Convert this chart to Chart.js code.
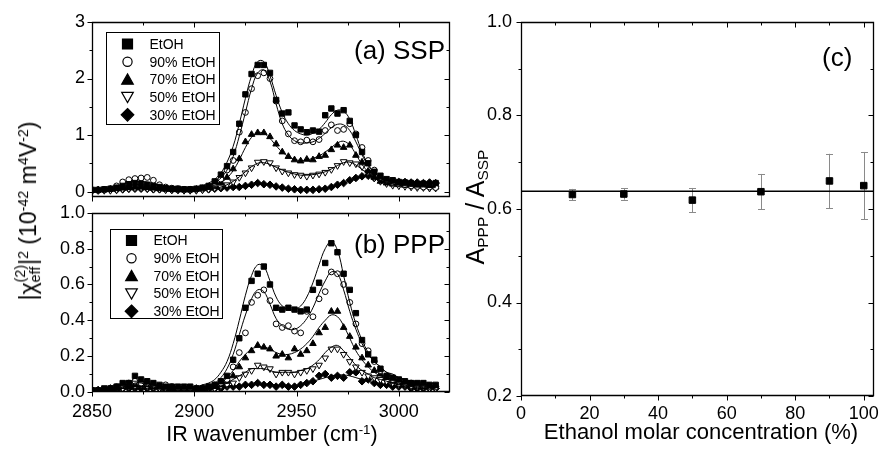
<!DOCTYPE html>
<html>
<head>
<meta charset="utf-8">
<title>SFG spectra of ethanol solutions</title>
<script src="https://cdn.jsdelivr.net/npm/chart.js@4.4.1/dist/chart.umd.min.js"></script>
<style>
  html, body { margin:0; padding:0; background:#fff; }
  body { width:886px; height:449px; position:relative; overflow:hidden;
         font-family:"Liberation Sans", Arial, sans-serif; color:#000; }
  canvas { position:absolute; }
  .lbl { position:absolute; white-space:nowrap; line-height:1; }
  .rot { transform: translate(-50%,-50%) rotate(-90deg); }
  .ctr { transform: translateX(-50%); }
  sup { font-size:0.62em; vertical-align:0.55em; line-height:0; }
  sub { font-size:0.62em; vertical-align:-0.28em; line-height:0; }
  .stk { display:inline-block; vertical-align:-0.3em; font-size:0.62em; line-height:1.05; }
  .stk span { display:block; }
</style>
</head>
<body>
<canvas id="cA" width="460" height="215" style="left:0px;top:0px"></canvas>
<canvas id="cB" width="460" height="254" style="left:0px;top:195px"></canvas>
<canvas id="cC" width="426" height="449" style="left:460px;top:0px"></canvas>

<div class="lbl" style="left:354px;top:37px;font-size:26px">(a) SSP</div>
<div class="lbl" style="left:354px;top:231px;font-size:26px">(b) PPP</div>
<div class="lbl" style="left:822px;top:44px;font-size:26px">(c)</div>
<div class="lbl ctr" style="left:272px;top:424px;font-size:21.5px">IR wavenumber (cm<sup>-1</sup>)</div>
<div class="lbl ctr" style="left:701px;top:421px;font-size:22px">Ethanol molar concentration (%)</div>
<div class="lbl rot" style="left:28px;top:211px;font-size:23px">|&chi;<span class="stk"><span>(2)</span><span>eff</span></span>|<sup>2</sup> (10<sup>-42</sup> m<sup>4</sup>V<sup>-2</sup>)</div>
<div class="lbl rot" style="left:475px;top:207px;font-size:25px">A<sub>PPP</sub> / A<sub>SSP</sub></div>

<script>
// ---------------- data ----------------
const wavenumbers = [2850,2853,2856,2859,2862,2865,2868,2871,2874,2877,
  2880,2883,2886,2889,2892,2895,2898,2901,2904,2907,
  2910,2913,2916,2919,2922,2925,2928,2931,2934,2937,
  2940,2943,2946,2949,2952,2955,2958,2961,2964,2967,
  2970,2973,2976,2979,2982,2985,2988,2991,2994,2997,
  3000,3003,3006,3009,3012,3015,3018];

const seriesLabels = ['EtOH','90% EtOH','70% EtOH','50% EtOH','30% EtOH'];

// (a) SSP measured
const sspEtOH = [0.03,0.03,0.04,0.05,0.07,0.10,0.13,0.15,0.14,0.12,
  0.10,0.08,0.06,0.05,0.05,0.04,0.04,0.05,0.07,0.10,
  0.18,0.30,0.45,0.70,1.20,1.72,2.08,2.24,2.24,2.10,
  1.62,1.38,1.40,1.17,1.10,1.05,1.08,1.06,1.35,1.47,
  1.38,1.44,1.25,1.00,0.70,0.50,0.35,0.28,0.22,0.20,
  0.17,0.16,0.15,0.13,0.14,0.12,0.15];
const ssp90 = [0.02,0.02,0.03,0.05,0.10,0.17,0.21,0.23,0.24,0.25,
  0.20,0.12,0.08,0.06,0.05,0.04,0.04,0.04,0.06,0.09,
  0.14,0.22,0.38,0.55,1.05,1.40,1.82,2.05,2.10,2.00,
  1.60,1.25,1.02,0.90,0.88,0.91,0.88,0.92,1.08,1.18,
  1.08,1.10,1.20,1.02,0.78,0.55,0.38,0.25,0.20,0.16,
  0.14,0.12,0.10,0.09,0.08,0.08,0.07];
const ssp70 = [0.02,0.03,0.03,0.04,0.05,0.06,0.07,0.08,0.08,0.07,
  0.06,0.05,0.04,0.04,0.03,0.03,0.03,0.04,0.05,0.07,
  0.10,0.16,0.25,0.40,0.58,0.88,1.01,1.04,1.04,0.97,
  0.84,0.70,0.62,0.56,0.54,0.57,0.56,0.62,0.64,0.74,
  0.82,0.78,0.82,0.64,0.52,0.36,0.25,0.18,0.15,0.13,
  0.12,0.11,0.10,0.10,0.09,0.09,0.08];
const ssp50 = [0.01,0.02,0.02,0.02,0.03,0.04,0.05,0.06,0.06,0.05,
  0.04,0.04,0.03,0.03,0.03,0.02,0.02,0.02,0.03,0.04,
  0.06,0.08,0.12,0.17,0.25,0.33,0.42,0.52,0.53,0.51,
  0.42,0.36,0.33,0.30,0.29,0.27,0.29,0.31,0.34,0.39,
  0.46,0.53,0.51,0.49,0.44,0.34,0.24,0.18,0.14,0.11,
  0.10,0.09,0.08,0.07,0.07,0.06,0.06];
const ssp30 = [0.02,0.02,0.03,0.03,0.03,0.04,0.05,0.05,0.05,0.05,
  0.04,0.04,0.04,0.03,0.03,0.03,0.03,0.03,0.04,0.04,
  0.05,0.06,0.07,0.08,0.08,0.10,0.12,0.15,0.13,0.12,
  0.09,0.07,0.05,0.04,0.03,0.03,0.03,0.04,0.05,0.08,
  0.12,0.15,0.20,0.24,0.27,0.28,0.24,0.21,0.19,0.18,
  0.17,0.17,0.16,0.16,0.15,0.16,0.15];

// (a) SSP fitted curves
const sspFitEtOH = [0.03,0.03,0.04,0.05,0.07,0.09,0.11,0.12,0.12,0.11,
  0.09,0.07,0.06,0.05,0.05,0.05,0.06,0.07,0.10,0.15,
  0.22,0.33,0.52,0.80,1.20,1.65,2.05,2.30,2.30,2.05,
  1.70,1.40,1.20,1.08,1.02,1.00,1.03,1.10,1.22,1.36,
  1.44,1.42,1.28,1.00,0.70,0.48,0.34,0.26,0.21,0.18,
  0.16,0.15,0.14,0.13,0.12,0.12,0.11];
const sspFit90 = [0.02,0.03,0.04,0.06,0.09,0.13,0.16,0.18,0.18,0.17,
  0.14,0.11,0.08,0.06,0.05,0.05,0.05,0.06,0.07,0.10,
  0.15,0.24,0.38,0.62,0.98,1.40,1.82,2.10,2.15,1.95,
  1.55,1.20,1.00,0.90,0.86,0.86,0.88,0.94,1.03,1.13,
  1.19,1.18,1.08,0.88,0.65,0.46,0.33,0.25,0.20,0.17,
  0.15,0.13,0.12,0.11,0.10,0.09,0.09];
const sspFit70 = [0.03,0.03,0.04,0.04,0.05,0.06,0.07,0.07,0.07,0.07,
  0.06,0.05,0.04,0.04,0.04,0.04,0.04,0.05,0.06,0.08,
  0.11,0.16,0.24,0.37,0.56,0.78,0.96,1.04,1.03,0.94,
  0.81,0.70,0.62,0.57,0.55,0.56,0.59,0.63,0.70,0.78,
  0.86,0.89,0.82,0.66,0.48,0.35,0.26,0.20,0.16,0.14,
  0.13,0.12,0.11,0.10,0.10,0.09,0.09];
const sspFit50 = [0.02,0.02,0.02,0.03,0.03,0.04,0.05,0.05,0.05,0.05,
  0.04,0.04,0.03,0.03,0.03,0.03,0.03,0.03,0.04,0.05,
  0.06,0.08,0.12,0.18,0.26,0.35,0.44,0.50,0.51,0.48,
  0.43,0.38,0.34,0.31,0.29,0.29,0.30,0.32,0.35,0.40,
  0.46,0.51,0.52,0.47,0.39,0.31,0.24,0.19,0.15,0.13,
  0.11,0.10,0.09,0.08,0.08,0.07,0.07];
const sspFit30 = [0.02,0.02,0.03,0.03,0.03,0.04,0.04,0.05,0.05,0.04,
  0.04,0.04,0.03,0.03,0.03,0.03,0.03,0.03,0.04,0.04,
  0.05,0.06,0.07,0.08,0.09,0.11,0.12,0.13,0.13,0.11,
  0.09,0.07,0.05,0.04,0.03,0.03,0.04,0.05,0.06,0.08,
  0.11,0.15,0.19,0.23,0.26,0.27,0.25,0.22,0.20,0.18,
  0.17,0.16,0.16,0.15,0.15,0.15,0.15];

// (b) PPP measured
const pppEtOH = [0.01,0.01,0.02,0.02,0.03,0.05,0.05,0.09,0.07,0.06,
  0.05,0.04,0.03,0.03,0.03,0.03,0.03,0.02,0.02,0.03,
  0.04,0.06,0.09,0.18,0.30,0.47,0.62,0.66,0.70,0.60,
  0.47,0.46,0.47,0.46,0.45,0.46,0.57,0.61,0.72,0.83,
  0.78,0.66,0.57,0.44,0.29,0.21,0.18,0.13,0.09,0.08,
  0.07,0.06,0.05,0.05,0.05,0.04,0.04];
const ppp90 = [0.01,0.01,0.01,0.02,0.03,0.04,0.05,0.06,0.05,0.05,
  0.04,0.03,0.04,0.03,0.02,0.02,0.02,0.02,0.02,0.03,
  0.04,0.05,0.07,0.14,0.22,0.33,0.50,0.54,0.57,0.51,
  0.38,0.36,0.37,0.34,0.33,0.45,0.42,0.52,0.56,0.67,
  0.66,0.60,0.50,0.38,0.27,0.23,0.17,0.12,0.09,0.07,
  0.06,0.05,0.05,0.04,0.04,0.03,0.03];
const ppp70 = [0.01,0.01,0.01,0.02,0.02,0.03,0.03,0.04,0.04,0.04,
  0.03,0.03,0.03,0.02,0.02,0.02,0.02,0.02,0.02,0.02,
  0.03,0.04,0.06,0.09,0.14,0.19,0.23,0.26,0.25,0.24,
  0.20,0.21,0.19,0.24,0.21,0.23,0.27,0.33,0.36,0.45,
  0.45,0.36,0.31,0.25,0.19,0.15,0.12,0.10,0.08,0.06,
  0.05,0.05,0.04,0.04,0.03,0.03,0.03];
const ppp50 = [0.00,0.00,0.01,0.01,0.01,0.02,0.03,0.03,0.04,0.03,
  0.03,0.02,0.02,0.02,0.02,0.01,0.01,0.01,0.01,0.02,
  0.02,0.03,0.04,0.05,0.08,0.10,0.12,0.15,0.14,0.13,
  0.10,0.11,0.11,0.10,0.11,0.12,0.13,0.15,0.19,0.24,
  0.24,0.21,0.17,0.14,0.11,0.09,0.08,0.07,0.06,0.05,
  0.04,0.04,0.03,0.03,0.03,0.02,0.02];
const ppp30 = [0.01,0.01,0.01,0.01,0.01,0.02,0.02,0.02,0.02,0.02,
  0.02,0.02,0.01,0.01,0.01,0.01,0.01,0.01,0.01,0.02,
  0.02,0.02,0.03,0.03,0.03,0.04,0.04,0.05,0.04,0.04,
  0.03,0.04,0.03,0.03,0.04,0.05,0.06,0.09,0.10,0.08,
  0.09,0.08,0.11,0.11,0.06,0.07,0.05,0.04,0.04,0.03,
  0.03,0.03,0.02,0.02,0.02,0.02,0.02];

// (b) PPP fitted curves
const pppFitEtOH = [0.02,0.02,0.02,0.03,0.04,0.05,0.06,0.06,0.06,0.05,
  0.04,0.03,0.03,0.03,0.03,0.03,0.03,0.03,0.04,0.05,
  0.07,0.11,0.17,0.27,0.40,0.54,0.65,0.71,0.70,0.62,
  0.53,0.48,0.46,0.46,0.48,0.53,0.61,0.71,0.80,0.84,
  0.79,0.65,0.50,0.38,0.29,0.22,0.17,0.14,0.11,0.10,
  0.08,0.07,0.06,0.06,0.05,0.05,0.04];
const pppFit90 = [0.01,0.01,0.02,0.02,0.03,0.04,0.04,0.05,0.05,0.04,
  0.04,0.03,0.03,0.02,0.02,0.02,0.02,0.03,0.03,0.04,
  0.05,0.08,0.13,0.21,0.32,0.43,0.52,0.57,0.56,0.49,
  0.41,0.37,0.35,0.35,0.37,0.41,0.47,0.55,0.62,0.67,
  0.66,0.57,0.45,0.35,0.27,0.21,0.17,0.14,0.11,0.09,
  0.08,0.07,0.06,0.05,0.05,0.05,0.04];
const pppFit70 = [0.01,0.01,0.01,0.02,0.02,0.03,0.03,0.03,0.03,0.03,
  0.03,0.02,0.02,0.02,0.02,0.02,0.02,0.02,0.03,0.03,
  0.04,0.05,0.08,0.12,0.17,0.21,0.24,0.25,0.25,0.24,
  0.22,0.21,0.21,0.22,0.24,0.27,0.31,0.36,0.40,0.43,
  0.42,0.37,0.30,0.23,0.18,0.14,0.11,0.09,0.08,0.07,
  0.06,0.05,0.05,0.04,0.04,0.04,0.03];
const pppFit50 = [0.00,0.01,0.01,0.01,0.01,0.02,0.02,0.03,0.03,0.03,
  0.02,0.02,0.02,0.01,0.01,0.01,0.01,0.01,0.02,0.02,
  0.02,0.03,0.05,0.07,0.09,0.11,0.13,0.13,0.13,0.12,
  0.11,0.11,0.11,0.11,0.12,0.13,0.15,0.18,0.22,0.25,
  0.26,0.23,0.19,0.15,0.12,0.10,0.08,0.07,0.06,0.05,
  0.05,0.04,0.04,0.03,0.03,0.03,0.03];
const pppFit30 = [0.01,0.01,0.01,0.01,0.01,0.02,0.02,0.02,0.02,0.02,
  0.02,0.02,0.01,0.01,0.01,0.01,0.01,0.01,0.02,0.02,
  0.02,0.02,0.03,0.03,0.03,0.04,0.04,0.04,0.04,0.04,
  0.04,0.03,0.03,0.03,0.04,0.05,0.06,0.07,0.08,0.09,
  0.095,0.095,0.09,0.08,0.07,0.06,0.05,0.04,0.04,0.03,
  0.03,0.03,0.02,0.02,0.02,0.02,0.02];

// (c) amplitude ratio
const concentration = [15, 30, 50, 70, 90, 100];
const ratio = [0.631, 0.632, 0.619, 0.637, 0.660, 0.650];
const ratioErr = [0.012, 0.012, 0.026, 0.038, 0.058, 0.072];
const ratioMean = 0.638;

// ticks
const wnTicks = [2850, 2900, 2950, 3000];
const wnMinorTicks = [2875, 2925, 2975];
const sspTicks = [0, 1, 2, 3];
const sspMinorTicks = [0.5, 1.5, 2.5];
const pppTicks = [0, 0.2, 0.4, 0.6, 0.8, 1.0];
const pppMinorTicks = [0.1, 0.3, 0.5, 0.7, 0.9];
const concTicks = [0, 20, 40, 60, 80, 100];
const concMinorTicks = [10, 30, 50, 70, 90];
const ratioTicks = [0.2, 0.4, 0.6, 0.8, 1.0];
const ratioMinorTicks = [0.3, 0.5, 0.7, 0.9];

// ---------------- drawing ----------------
const FONT = '"Liberation Sans", Arial, sans-serif';
Chart.defaults.font.family = FONT;
Chart.defaults.color = '#000';

const markerStyles = [
  { pointStyle: 'rect',     rotation: 0,   radius: 3.8, fill: '#000' },
  { pointStyle: 'circle',   rotation: 0,   radius: 2.9, fill: '#fff' },
  { pointStyle: 'triangle', rotation: 0,   radius: 3.8, fill: '#000' },
  { pointStyle: 'triangle', rotation: 180, radius: 3.8, fill: '#fff' },
  { pointStyle: 'rectRot',  rotation: 0,   radius: 3.8, fill: '#000' }
];

function xy(xs, ys) { return xs.map((x, i) => ({ x: x, y: ys[i] })); }

function drawSymbol(ctx, style, rot, x, y, fill) {
  ctx.beginPath();
  if (style === 'rect') {
    ctx.rect(x - 5, y - 5, 10, 10);
  } else if (style === 'circle') {
    ctx.arc(x, y, 4.6, 0, Math.PI * 2);
  } else if (style === 'triangle' && rot === 180) {
    ctx.moveTo(x, y + 5.5); ctx.lineTo(x + 5.8, y - 4.8); ctx.lineTo(x - 5.8, y - 4.8); ctx.closePath();
  } else if (style === 'triangle') {
    ctx.moveTo(x, y - 5.5); ctx.lineTo(x + 5.8, y + 4.8); ctx.lineTo(x - 5.8, y + 4.8); ctx.closePath();
  } else {
    ctx.moveTo(x, y - 6.3); ctx.lineTo(x + 6.3, y); ctx.lineTo(x, y + 6.3); ctx.lineTo(x - 6.3, y); ctx.closePath();
  }
  ctx.fillStyle = fill; ctx.fill();
  ctx.strokeStyle = '#000'; ctx.lineWidth = 1.2; ctx.stroke();
}

const panelPlugin = {
  id: 'panel',
  beforeDatasetsDraw(chart, args, o) {
    if (!o.errors) return;
    const ctx = chart.ctx, sx = chart.scales.x, sy = chart.scales.y;
    ctx.save();
    ctx.strokeStyle = '#8a8a8a'; ctx.lineWidth = 1;
    ctx.beginPath();
    o.errors.x.forEach((xv, i) => {
      const px = Math.round(sx.getPixelForValue(xv)) + 0.5;
      const y1 = sy.getPixelForValue(o.errors.y[i] + o.errors.e[i]);
      const y2 = sy.getPixelForValue(o.errors.y[i] - o.errors.e[i]);
      ctx.moveTo(px, y1); ctx.lineTo(px, y2);
      ctx.moveTo(px - 3.5, Math.round(y1) + 0.5); ctx.lineTo(px + 3.5, Math.round(y1) + 0.5);
      ctx.moveTo(px - 3.5, Math.round(y2) + 0.5); ctx.lineTo(px + 3.5, Math.round(y2) + 0.5);
    });
    ctx.stroke();
    ctx.restore();
  },
  afterDatasetsDraw(chart, args, o) {
    const ctx = chart.ctx, a = chart.chartArea;
    const sx = chart.scales.x, sy = chart.scales.y;
    const L = Math.round(a.left) + 0.5, R = Math.round(a.right) - 0.5;
    const T = Math.round(a.top) + 0.5, B = Math.round(a.bottom) - 0.5;
    ctx.save();
    ctx.strokeStyle = '#000'; ctx.lineWidth = 1.3;
    ctx.beginPath(); ctx.rect(L, T, R - L, B - T); ctx.stroke();
    ctx.lineWidth = 1;
    ctx.beginPath();
    [[o.xMajor, 5], [o.xMinor, 3]].forEach(([vals, len]) => vals.forEach(v => {
      const p = Math.round(sx.getPixelForValue(v)) + 0.5;
      ctx.moveTo(p, B); ctx.lineTo(p, B + len);
      ctx.moveTo(p, T); ctx.lineTo(p, T + len);
    }));
    [[o.yMajor, 5], [o.yMinor, 3]].forEach(([vals, len]) => vals.forEach(v => {
      const p = Math.round(sy.getPixelForValue(v)) + 0.5;
      ctx.moveTo(L - len, p); ctx.lineTo(L, p);
      ctx.moveTo(R, p); ctx.lineTo(R - len, p);
    }));
    ctx.stroke();
    if (o.legend) {
      const lg = o.legend;
      const bx = Math.round(a.left + lg.x) + 0.5, by = Math.round(a.top + lg.y) + 0.5;
      ctx.fillStyle = '#fff'; ctx.fillRect(bx, by, lg.w, lg.h);
      ctx.strokeStyle = '#000'; ctx.lineWidth = 1; ctx.strokeRect(bx, by, lg.w, lg.h);
      ctx.font = '14px ' + FONT; ctx.textBaseline = 'middle'; ctx.textAlign = 'left';
      chart.data.datasets.filter(d => d.isMarker).forEach((d, i) => {
        const cy = by + lg.first + i * lg.step;
        drawSymbol(ctx, d.pointStyle, d.rotation || 0, bx + lg.symX, cy, d.pointBackgroundColor);
        ctx.fillStyle = '#000';
        ctx.fillText(d.label, bx + lg.textX, cy + 1);
      });
    }
    ctx.restore();
  }
};

function spectrumDatasets(measured, fits) {
  const ds = [];
  measured.forEach((vals, i) => {
    const m = markerStyles[i];
    ds.push({
      type: 'scatter', label: seriesLabels[i], isMarker: true,
      data: xy(wavenumbers, vals), showLine: false,
      pointStyle: m.pointStyle, rotation: m.rotation, pointRadius: m.radius,
      pointBackgroundColor: m.fill, pointBorderColor: '#000', pointBorderWidth: 1,
      order: 1
    });
  });
  fits.forEach((vals, i) => {
    ds.push({
      type: 'line', label: seriesLabels[i] + ' fit',
      data: xy(wavenumbers, vals), borderColor: '#000', borderWidth: 1,
      pointRadius: 0, tension: 0.4, fill: false, order: 0
    });
  });
  return ds;
}

function setTicks(list) { return s => { s.ticks = list.map(v => ({ value: v })); }; }

const common = {
  responsive: false, animation: false, devicePixelRatio: 1,
  events: [],
};

// Panel (a) SSP
new Chart(document.getElementById('cA'), {
  type: 'scatter',
  data: { datasets: spectrumDatasets(
    [sspEtOH, ssp90, ssp70, ssp50, ssp30],
    [sspFitEtOH, sspFit90, sspFit70, sspFit50, sspFit30]) },
  options: Object.assign({}, common, {
    layout: { padding: { left: 0, top: 22, right: 10, bottom: 10 } },
    plugins: {
      legend: { display: false }, tooltip: { enabled: false },
      panel: { xMajor: wnTicks, xMinor: wnMinorTicks, yMajor: sspTicks, yMinor: sspMinorTicks,
        legend: { x: 14, y: 10, w: 113, h: 92, first: 11.5, step: 17.7, symX: 21, textX: 43 } }
    },
    scales: {
      x: { type: 'linear', min: 2850, max: 3025, display: false,
           afterBuildTicks: setTicks(wnTicks) },
      y: { type: 'linear', min: -0.1, max: 3,
           afterBuildTicks: setTicks(sspTicks),
           afterFit: s => { s.width = 92; },
           grid: { display: false, drawTicks: false }, border: { display: false },
           ticks: { font: { size: 18 }, padding: 7, autoSkip: false, callback: v => String(v) } }
    }
  }),
  plugins: [panelPlugin]
});

// Panel (b) PPP
new Chart(document.getElementById('cB'), {
  type: 'scatter',
  data: { datasets: spectrumDatasets(
    [pppEtOH, ppp90, ppp70, ppp50, ppp30],
    [pppFitEtOH, pppFit90, pppFit70, pppFit50, pppFit30]) },
  options: Object.assign({}, common, {
    layout: { padding: { left: 0, top: 17, right: 10, bottom: 0 } },
    plugins: {
      legend: { display: false }, tooltip: { enabled: false },
      panel: { xMajor: wnTicks, xMinor: wnMinorTicks, yMajor: pppTicks, yMinor: pppMinorTicks,
        legend: { x: 18, y: 16, w: 112, h: 89, first: 11, step: 17.7, symX: 21, textX: 43 } }
    },
    scales: {
      x: { type: 'linear', min: 2850, max: 3025,
           afterBuildTicks: setTicks(wnTicks),
           afterFit: s => { s.height = 57; },
           grid: { display: false, drawTicks: false }, border: { display: false },
           ticks: { font: { size: 18 }, padding: 9, autoSkip: false, maxRotation: 0, callback: v => String(v) } },
      y: { type: 'linear', min: 0, max: 1.0,
           afterBuildTicks: setTicks(pppTicks),
           afterFit: s => { s.width = 92; },
           grid: { display: false, drawTicks: false }, border: { display: false },
           ticks: { font: { size: 18 }, padding: 7, autoSkip: false, callback: v => v.toFixed(1) } }
    }
  }),
  plugins: [panelPlugin]
});

// Panel (c) ratio
const cXMin = 0, cXMax = 103;
new Chart(document.getElementById('cC'), {
  type: 'scatter',
  data: { datasets: [
    { type: 'line', label: 'mean', data: [{ x: cXMin, y: ratioMean }, { x: cXMax, y: ratioMean }],
      borderColor: '#000', borderWidth: 1.5, pointRadius: 0, fill: false, order: 1 },
    { type: 'scatter', label: 'A_PPP / A_SSP', data: xy(concentration, ratio),
      pointStyle: 'rect', pointRadius: 4.6, pointBackgroundColor: '#000', pointBorderColor: '#000',
      pointBorderWidth: 1, order: 0 }
  ] },
  options: Object.assign({}, common, {
    layout: { padding: { left: 0, top: 22, right: 8, bottom: 0 } },
    plugins: {
      legend: { display: false }, tooltip: { enabled: false },
      panel: { xMajor: concTicks, xMinor: concMinorTicks, yMajor: ratioTicks, yMinor: ratioMinorTicks,
        errors: { x: concentration, y: ratio, e: ratioErr } }
    },
    scales: {
      x: { type: 'linear', min: cXMin, max: cXMax,
           afterBuildTicks: setTicks(concTicks),
           afterFit: s => { s.height = 53; },
           grid: { display: false, drawTicks: false }, border: { display: false },
           ticks: { font: { size: 18 }, padding: 7, autoSkip: false, maxRotation: 0, callback: v => String(v) } },
      y: { type: 'linear', min: 0.2, max: 1.0,
           afterBuildTicks: setTicks(ratioTicks),
           afterFit: s => { s.width = 61; },
           grid: { display: false, drawTicks: false }, border: { display: false },
           ticks: { font: { size: 18 }, padding: 9, autoSkip: false, callback: v => v.toFixed(1) } }
    }
  }),
  plugins: [panelPlugin]
});
</script>
</body>
</html>
